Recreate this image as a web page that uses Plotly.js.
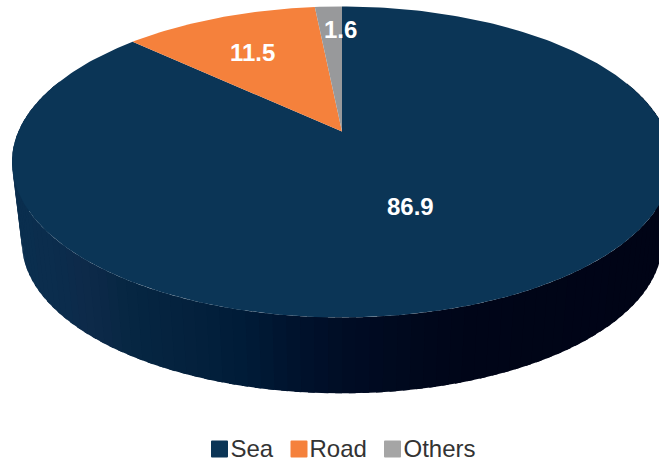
<!DOCTYPE html>
<html>
<head>
<meta charset="utf-8">
<script src="https://cdn.plot.ly/plotly-3.0.1.min.js"></script>
<style>html,body{margin:0;padding:0;background:#fff}#chart{width:659px;height:464px}</style>
</head>
<body>
<div id="chart"></div>
<script>
// Data
const categories = ['Sea', 'Road', 'Others'];
const shares = [86.9, 11.5, 1.6];
const colors = ['#0b3556', '#f5813c', '#98999b'];
const swatchColors = ['#0b3556', '#f5813c', '#a5a5a5'];

// Projection of the tilted disc (pixel-sized axis units)
const W = 659, H = 464;
const cx = 342, apexY = 131.5, a = 323.6, b = 149.5, k = 0.196;
const baseApexY = 213, baseScale = 0.97;
function rim(deg, r, y0, s) {
  const t = deg * Math.PI / 180, u = r * Math.sin(t), v = -r * Math.cos(t), d = 1 - k * v;
  return [cx + s * a * u / d, y0 + s * b * v / d];
}
function arc(from, to, y0, s) {
  const pts = [], n = Math.max(2, Math.ceil(Math.abs(to - from)));
  for (let i = 0; i <= n; i++) pts.push(rim(from + (to - from) * i / n, 1, y0, s));
  return pts;
}

// Wall shading by horizontal position
const shadeStops = [[0,[10,47,79]],[60,[11,44,76]],[80,[14,42,74]],[130,[6,38,66]],[200,[3,32,60]],
  [240,[0,28,56]],[300,[0,18,44]],[350,[0,12,36]],[420,[0,8,28]],[470,[0,5,24]],[659,[0,4,22]]];
function shade(x) {
  for (let i = 1; i < shadeStops.length; i++) {
    const [x0, c0] = shadeStops[i - 1], [x1, c1] = shadeStops[i];
    if (x <= x1) {
      const f = Math.max(0, (x - x0) / (x1 - x0));
      return 'rgb(' + c0.map((c, j) => Math.round(c + (c1[j] - c) * f)).join(',') + ')';
    }
  }
  return 'rgb(0,4,22)';
}

const traces = [];
function polygon(pts, color) {
  traces.push({type: 'scatter', mode: 'lines', x: pts.map(p => p[0]), y: pts.map(p => p[1]),
    fill: 'toself', fillcolor: color, line: {width: 0, color: color}, showlegend: false, hoverinfo: 'skip'});
}
// Wall: drawn from right to left, each strip slightly overlapping the next
const wallStep = 2;
for (let d = 70; d < 290; d += wallStep) {
  const top = arc(d, d + wallStep + 1, apexY, 1);
  const bot = arc(d + wallStep + 1, d, baseApexY, baseScale);
  polygon(top.concat(bot), shade(rim(d + wallStep / 2, 1, apexY, 1)[0]));
}
// Top face
let start = 0;
const total = shares.reduce((p, c) => p + c, 0);
shares.forEach((s, i) => {
  const end = start + s / total * 360;
  polygon([[cx, apexY]].concat(arc(start, end, apexY, 1)), colors[i]);
  start = end;
});
// Legend entries
categories.forEach((c, i) => traces.push({type: 'scatter', mode: 'markers', x: [null], y: [null], name: c,
  marker: {symbol: 'square', size: 15, color: swatchColors[i], line: {width: 2, color: swatchColors[i]}}, hoverinfo: 'skip'}));

// Label anchors and legend layout
const labelX = [410, 252, 340], labelY = [206, 52.5, 29.5];
const swatchCenterX = [219.5, 299, 392.5], legendTextX = [230.5, 309.5, 403.5];

const layout = {
  width: W, height: H, margin: {l: 0, r: 0, t: 0, b: 0},
  paper_bgcolor: '#fff', plot_bgcolor: '#fff', hovermode: false,
  font: {family: '"Liberation Sans", Arial, sans-serif'},
  xaxis: {range: [0, W], visible: false, fixedrange: true},
  yaxis: {range: [H, 0], visible: false, fixedrange: true},
  showlegend: true,
  legend: {orientation: 'h', x: 0, xanchor: 'left', y: 0, yanchor: 'bottom', entrywidth: 200, entrywidthmode: 'pixels',
    bgcolor: 'rgba(0,0,0,0)', font: {size: 24, color: '#333333'}, traceorder: 'normal', itemclick: false, itemdoubleclick: false},
  annotations: shares.map((s, i) => ({x: labelX[i], y: labelY[i], xref: 'x', yref: 'y', text: '<b>' + s.toFixed(1) + '</b>',
    showarrow: false, font: {size: 24, color: '#ffffff', family: '"Liberation Sans", Arial, sans-serif'}, xanchor: 'center', yanchor: 'middle'}))
};

Plotly.newPlot('chart', traces, layout, {staticPlot: true, displayModeBar: false}).then(gd => {
  const box = gd.getBoundingClientRect();
  gd.querySelectorAll('.legend .traces').forEach((g, i) => {
    const sym = g.querySelector('.legendpoints path, .legendsymbols path');
    const txt = g.querySelector('.legendtext');
    sym.style.strokeLinejoin = 'round';
    const sr = sym.getBoundingClientRect();
    const m = /translate\(([-\d.]+),\s*([-\d.]+)\)/.exec(g.getAttribute('transform'));
    const dx = swatchCenterX[i] - (sr.left + sr.width / 2 - box.left);
    const dy = 449 - (sr.top + sr.height / 2 - box.top);
    g.setAttribute('transform', 'translate(' + (+m[1] + dx) + ',' + (+m[2] + dy) + ')');
    const tr = txt.getBoundingClientRect();
    txt.setAttribute('x', +txt.getAttribute('x') + legendTextX[i] - (tr.left - box.left));
    txt.setAttribute('y', +(txt.getAttribute('y') || 0) - 1);
  });
  gd.querySelectorAll('.legend .scrollbox, .legend').forEach(el => el.removeAttribute('clip-path'));
});
</script>
</body>
</html>
